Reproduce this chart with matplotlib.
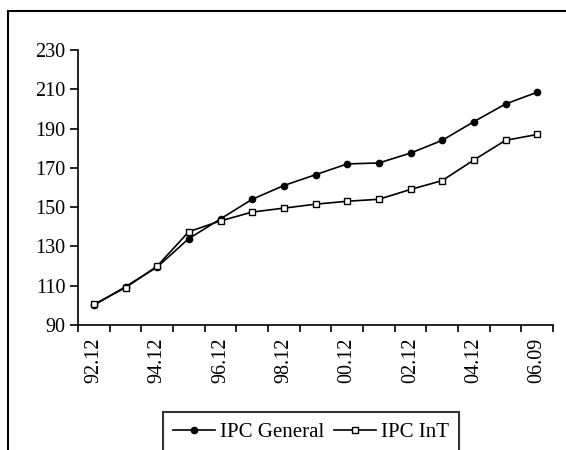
import matplotlib
matplotlib.use("Agg")
import matplotlib.pyplot as plt
from matplotlib.patches import Rectangle

# Periods (year.month), one label shown every other point
periods = ["92.12", "93.12", "94.12", "95.12", "96.12", "97.12", "98.12", "99.12",
           "00.12", "01.12", "02.12", "03.12", "04.12", "05.12", "06.09"]

# Index values
ipc_general = [100, 109.5, 119.5, 134, 144, 154, 161, 166.5, 172, 172.5,
               177.5, 184, 193.5, 202.5, 208.5]
ipc_int = [100.5, 109, 120, 137.5, 143, 147.5, 149.5, 151.5, 153, 154,
           159, 163.5, 174, 184, 187]

yticks = [90, 110, 130, 150, 170, 190, 210, 230]

plt.rcParams["font.family"] = ["Liberation Serif", "DejaVu Serif"]

fig = plt.figure(figsize=(5.66, 4.5), dpi=100)
ax = fig.add_axes([78 / 566, 1 - 325 / 450, 475 / 566, 275 / 450])

x = list(range(len(periods)))
ax.plot(x, ipc_general, color="black", lw=1.2, marker="o", ms=4.5,
        mfc="black", mec="black", label="IPC General")
ax.plot(x, ipc_int, color="black", lw=1.2, marker="s", ms=4.5,
        mfc="white", mec="black", mew=1.0, label="IPC InT")

ax.set_xlim(-0.5, len(periods) - 0.5)
ax.set_ylim(90, 230)
ax.set_yticks(yticks)
ax.set_yticklabels([str(v) for v in yticks])

# category boundary ticks, labels at every other category centre
ax.set_xticks([i - 0.5 for i in range(len(periods) + 1)])
ax.set_xticklabels([])
ax.set_xticks(x[::2], minor=True)
ax.set_xticklabels(periods[::2], minor=True, rotation=90)
ax.tick_params(axis="x", which="minor", length=0, pad=9, labelsize=14.5)
ax.tick_params(axis="x", which="major", direction="out", length=5, width=1.2)
ax.tick_params(axis="y", direction="out", length=6, width=1.2, labelsize=14.5, pad=3)

for side in ["top", "right"]:
    ax.spines[side].set_visible(False)
for side in ["left", "bottom"]:
    ax.spines[side].set_linewidth(1.2)

# outer chart frame (cut off on the right and bottom)
fig.patches.append(Rectangle((8 / 566, -0.2), 1.1, 1.2 - 11 / 450,
                             transform=fig.transFigure, fill=False,
                             edgecolor="black", lw=1.5))

leg = fig.legend(loc="upper left", bbox_to_anchor=(163 / 566, 1 - 412 / 450),
                 ncol=2, fontsize=15, frameon=True, fancybox=False,
                 edgecolor="black", handlelength=2.0, handletextpad=0.25,
                 columnspacing=0.45, borderpad=0.5, borderaxespad=0)
leg.get_frame().set_linewidth(1.5)

fig.savefig("out.png", dpi=100)
